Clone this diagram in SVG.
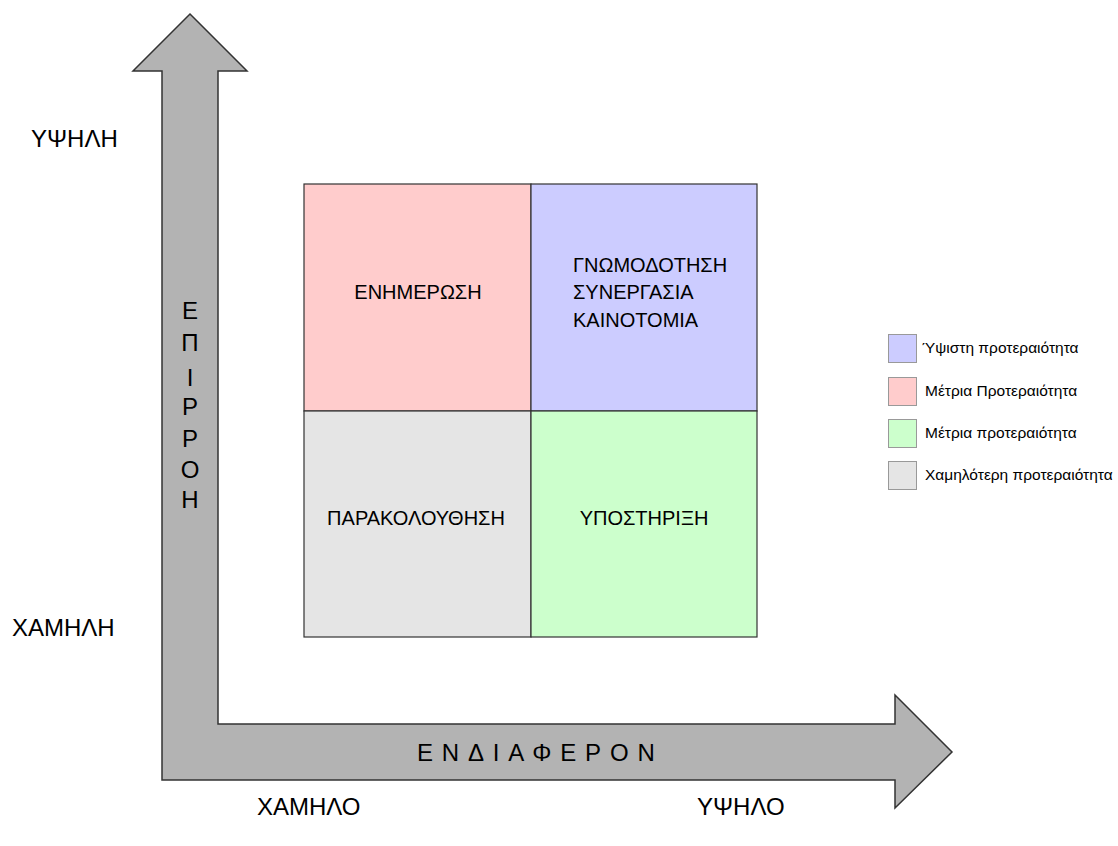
<svg xmlns="http://www.w3.org/2000/svg" width="1118" height="846" viewBox="0 0 1118 846">
<style>
text{font-family:"Liberation Sans",Arial,sans-serif;fill:#000}
.q{stroke:#333;stroke-width:1.2}
.ax{font-size:24px}
.qt{font-size:20px}
.lg{font-size:15.5px}
.lb{stroke:#999;stroke-width:1}
</style>
<rect width="1118" height="846" fill="#fff"/>
<g id="axes">
<polygon points="190,14 247,71 218,71 218,724 895,724 895,695 952,752 895,808 895,780 162,780 162,71 133,71" fill="#b3b3b3" stroke="#333" stroke-width="1.5" stroke-linejoin="miter"/>
<g id="y-title" font-size="24" text-anchor="middle">
<text x="190" y="319">Ε</text>
<text x="190" y="351">Π</text>
<text x="190" y="386">Ι</text>
<text x="190" y="415">Ρ</text>
<text x="190" y="447">Ρ</text>
<text x="190" y="478">Ο</text>
<text x="190" y="508">Η</text>
</g>
<text id="x-title" x="417" y="761" font-size="24" letter-spacing="8.8">ΕΝΔΙΑΦΕΡΟΝ</text>
</g>
<g id="labels">
<text class="ax" x="31" y="147">ΥΨΗΛΗ</text>
<text class="ax" x="12" y="636">ΧΑΜΗΛΗ</text>
<text class="ax" x="257" y="815">ΧΑΜΗΛΟ</text>
<text class="ax" x="697" y="815">ΥΨΗΛΟ</text>
</g>
<g id="q-enimerosi">
<rect class="q" x="304" y="184" width="227" height="227" fill="#ffcccc"/>
<text class="qt" x="418" y="299" text-anchor="middle">ΕΝΗΜΕΡΩΣΗ</text>
</g>
<g id="q-gnomodotisi">
<rect class="q" x="531" y="184" width="226" height="227" fill="#ccccff"/>
<text class="qt" x="573" y="272">ΓΝΩΜΟΔΟΤΗΣΗ</text>
<text class="qt" x="573" y="299">ΣΥΝΕΡΓΑΣΙΑ</text>
<text class="qt" x="573" y="327">ΚΑΙΝΟΤΟΜΙΑ</text>
</g>
<g id="q-parakolouthisi">
<rect class="q" x="304" y="411" width="227" height="226" fill="#e5e5e5"/>
<text class="qt" x="416" y="525" text-anchor="middle">ΠΑΡΑΚΟΛΟΥΘΗΣΗ</text>
</g>
<g id="q-ypostirixi">
<rect class="q" x="531" y="411" width="226" height="226" fill="#ccffcc"/>
<text class="qt" x="644" y="525" text-anchor="middle">ΥΠΟΣΤΗΡΙΞΗ</text>
</g>
<g id="legend">
<rect class="lb" x="888.5" y="334.5" width="28" height="28" fill="#ccccff"/>
<text class="lg" x="922" y="353">Ύψιστη προτεραιότητα</text>
<rect class="lb" x="888.5" y="377.5" width="28" height="28" fill="#ffcccc"/>
<text class="lg" x="925" y="396">Μέτρια Προτεραιότητα</text>
<rect class="lb" x="888.5" y="419.5" width="28" height="28" fill="#ccffcc"/>
<text class="lg" x="925" y="438">Μέτρια προτεραιότητα</text>
<rect class="lb" x="888.5" y="461.5" width="28" height="28" fill="#e5e5e5"/>
<text class="lg" x="925" y="480">Χαμηλότερη προτεραιότητα</text>
</g>
</svg>
